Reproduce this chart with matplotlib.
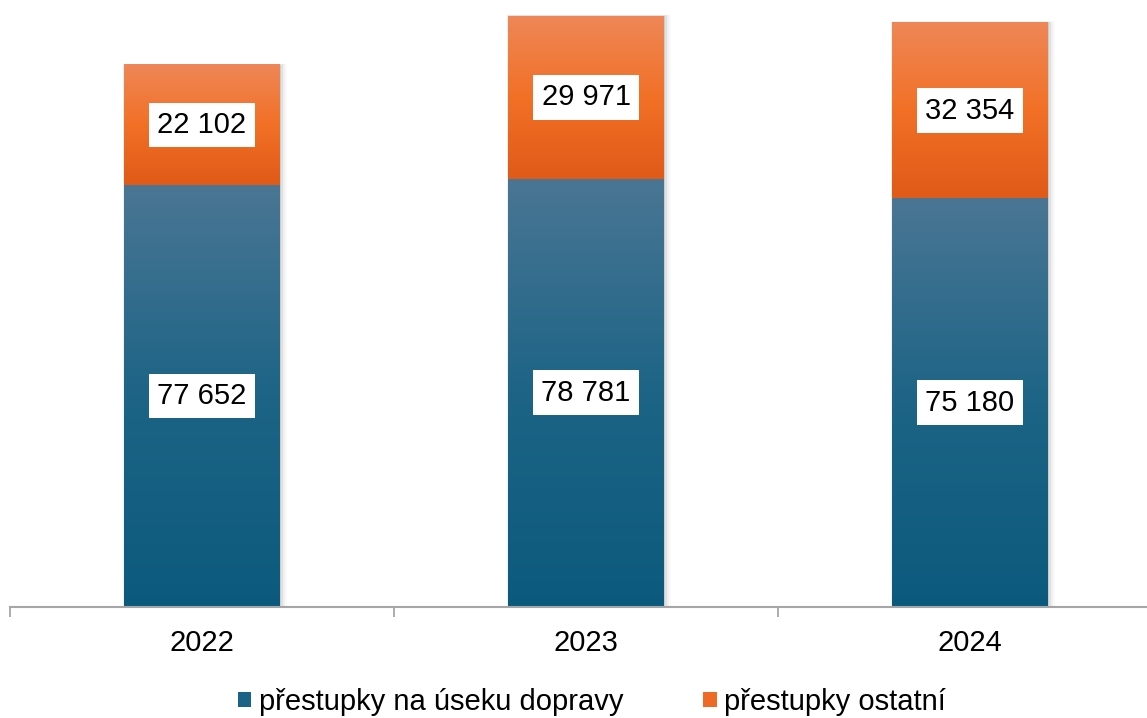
import numpy as np
import matplotlib
matplotlib.use("Agg")
import matplotlib.pyplot as plt
from matplotlib.colors import LinearSegmentedColormap
from matplotlib.patches import Patch, Rectangle

years = ["2022", "2023", "2024"]
doprava = [77652, 78781, 75180]
ostatni = [22102, 29971, 32354]
series_names = ["přestupky na úseku dopravy", "přestupky ostatní"]

plt.rcParams["font.family"] = ["Liberation Sans", "DejaVu Sans"]

blue_cmap = LinearSegmentedColormap.from_list("b", ["#0b5a7d", "#1d6486", "#4a7694"])
orange_cmap = LinearSegmentedColormap.from_list("o", ["#e05a18", "#f27026", "#ee8757"])


def fmt(v):
    return f"{v:,}".replace(",", " ")


fig = plt.figure(figsize=(11.47, 7.18), dpi=100)
ax = fig.add_axes([10 / 1147, 111 / 718, 1152 / 1147, 607 / 718])

x = np.arange(len(years))
w = 0.404
b1 = ax.bar(x, doprava, width=w, color="#1d6486", zorder=2)
b2 = ax.bar(x, ostatni, width=w, bottom=doprava, color="#f07026", zorder=2)

grad = np.linspace(0, 1, 256).reshape(-1, 1)
for bars, cmap in [(b1, blue_cmap), (b2, orange_cmap)]:
    for p in bars:
        x0, y0 = p.get_x(), p.get_y()
        bw, bh = p.get_width(), p.get_height()
        ax.imshow(grad, cmap=cmap, aspect="auto", origin="lower",
                  extent=[x0, x0 + bw, y0, y0 + bh], zorder=3)

# soft shadow, mostly to the right
for i in range(len(years)):
    top = doprava[i] + ostatni[i]
    for k, a in enumerate([0.09, 0.06, 0.04, 0.02]):
        d = 0.0035 * (k + 1)
        ax.add_patch(Rectangle((x[i] - w / 2 - d * 0.3, 0), w + d * 1.6, top + 60 * (k + 1),
                               color="black", alpha=a, lw=0, zorder=1))

for i in range(len(years)):
    for val, base in [(doprava[i], 0), (ostatni[i], doprava[i])]:
        ax.text(x[i], base + val / 2, fmt(val), ha="center", va="center",
                fontsize=21, color="black", zorder=5,
                bbox=dict(facecolor="white", edgecolor="none", pad=6))

ax.set_xlim(-0.5, 2.5)
ax.set_ylim(0, 111700)
for s in ["top", "right", "left"]:
    ax.spines[s].set_visible(False)
ax.spines["bottom"].set_color("#a6a6a6")
ax.spines["bottom"].set_linewidth(1.5)
ax.spines["bottom"].set_zorder(4)
ax.set_yticks([])
ax.set_xticks([-0.5, 0.5, 1.5, 2.5])
ax.set_xticklabels([])
ax.tick_params(axis="x", which="major", length=7, width=1.3, color="#a6a6a6")
ax.set_xticks(x, minor=True)
ax.set_xticklabels(years, minor=True)
ax.tick_params(axis="x", which="minor", length=0, pad=16, labelsize=21)

handles = [Patch(facecolor="#1a6286", label=series_names[0]),
           Patch(facecolor="#ee6a25", label=series_names[1])]
fig.legend(handles=handles, loc="center", bbox_to_anchor=(592 / 1147, 1 - 702 / 718),
           ncol=2, frameon=False, fontsize=21, handlelength=0.45, handleheight=0.45,
           handletextpad=0.25, columnspacing=2.75, borderaxespad=0)

fig.savefig("out.png", dpi=100)
